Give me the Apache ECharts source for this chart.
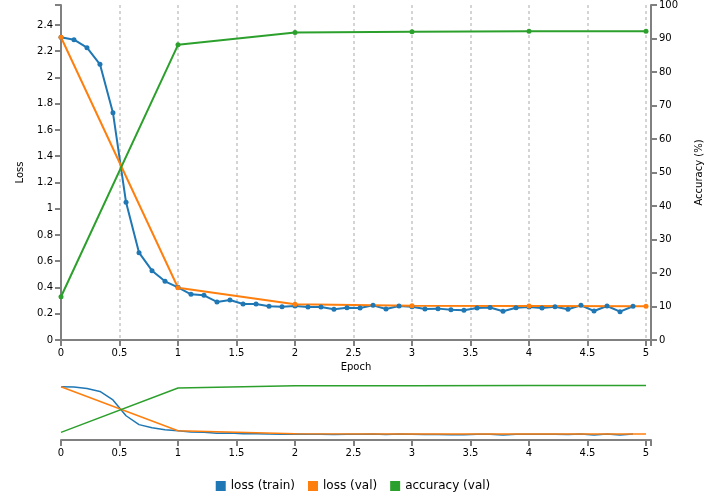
<!DOCTYPE html>
<html><head><meta charset="utf-8">
<script src="https://cdn.jsdelivr.net/npm/echarts@6/dist/echarts.min.js"></script>
<style>html,body{margin:0;padding:0;background:#fff}#c{width:706px;height:497px}</style>
</head><body><div id="c"></div>
<script>
// ---- data ----
const trainEpochs = [0, 0.111, 0.222, 0.333, 0.444, 0.556, 0.667, 0.778, 0.889, 1,
  1.111, 1.222, 1.333, 1.444, 1.556, 1.667, 1.778, 1.889, 2,
  2.111, 2.222, 2.333, 2.444, 2.556, 2.667, 2.778, 2.889, 3,
  3.111, 3.222, 3.333, 3.444, 3.556, 3.667, 3.778, 3.889, 4,
  4.111, 4.222, 4.333, 4.444, 4.556, 4.667, 4.778, 4.889];
const trainLoss = [2.306, 2.288, 2.227, 2.100, 1.732, 1.049, 0.665, 0.528, 0.447, 0.401,
  0.348, 0.340, 0.290, 0.305, 0.274, 0.274, 0.257, 0.254, 0.259,
  0.251, 0.251, 0.234, 0.246, 0.244, 0.264, 0.236, 0.259, 0.254,
  0.236, 0.239, 0.231, 0.226, 0.244, 0.248, 0.219, 0.246, 0.251,
  0.244, 0.254, 0.234, 0.264, 0.221, 0.259, 0.216, 0.257];
const valEpochs = [0, 1, 2, 3, 4, 5];
const valLoss = [2.306, 0.398, 0.272, 0.261, 0.259, 0.257];
const valAcc = [12.9, 88.1, 91.8, 92.0, 92.2, 92.2];
const seriesNames = ['loss (train)', 'loss (val)', 'accuracy (val)'];
const colors = ['#1f77b4', '#ff7f0e', '#2ca02c'];

const FONT = 'DejaVu Sans';
const AX = '#808080';
const xMax = 5 + 5 / 117;
const lossMax = 2.552;

function zip(xs, ys) { return xs.map((x, i) => [x, ys[i]]); }
function stepFmt(step, digits) {
  return function (v) {
    const k = v / step;
    if (Math.abs(k - Math.round(k)) > 1e-6) return '';
    return String(+(Math.round(k) * step).toFixed(digits));
  };
}
const axisCommon = {
  axisLine: { show: true, onZero: false, lineStyle: { color: AX, width: 2 } },
  axisTick: { show: true, inside: false, length: 6, lineStyle: { color: AX, width: 2 } },
  axisLabel: { color: '#000', fontSize: 10, fontFamily: FONT, margin: 8 },
  nameTextStyle: { color: '#000', fontSize: 10, fontFamily: FONT }
};
function xAxisDef(grid, main) {
  return Object.assign({}, axisCommon, {
    type: 'value', gridIndex: grid, min: 0, max: xMax, interval: 0.5,
    axisLabel: Object.assign({}, axisCommon.axisLabel, { formatter: stepFmt(0.5, 1) }),
    splitLine: { show: main, lineStyle: { color: '#d4d4d4', width: 2, type: [3, 3] } },
    name: main ? 'Epoch' : '', nameLocation: 'middle', nameGap: 22
  });
}

const chart = echarts.init(document.getElementById('c'), null, { renderer: 'canvas' });
const mainLine = (idx, xs, ys, yi) => ({
  name: seriesNames[idx], type: 'line', xAxisIndex: 0, yAxisIndex: yi,
  data: zip(xs, ys), color: colors[idx], symbol: 'circle', symbolSize: 5,
  lineStyle: { width: 2, color: colors[idx] }, itemStyle: { color: colors[idx] }
});
const subLine = (idx, xs, ys, yi) => ({
  name: seriesNames[idx], type: 'line', xAxisIndex: 1, yAxisIndex: yi,
  data: zip(xs, ys), color: colors[idx], symbol: 'none', showSymbol: false,
  lineStyle: { width: 1.5, color: colors[idx] }
});

chart.setOption({
  animation: false,
  textStyle: { fontFamily: FONT },
  grid: [
    { left: 61, top: 5, width: 590, height: 335, outerBoundsMode: 'none', containLabel: false },
    { left: 61, top: 381, width: 590, height: 59, outerBoundsMode: 'none', containLabel: false }
  ],
  legend: {
    data: seriesNames, top: 480, left: 'center', padding: 0,
    icon: 'rect', itemWidth: 10, itemHeight: 10, itemGap: 13,
    textStyle: { fontSize: 12, color: '#000', fontFamily: FONT }
  },
  xAxis: [xAxisDef(0, true), xAxisDef(1, false)],
  yAxis: [
    Object.assign({}, axisCommon, {
      type: 'value', gridIndex: 0, position: 'left', min: 0, max: lossMax, interval: 0.2,
      axisLabel: Object.assign({}, axisCommon.axisLabel, { formatter: stepFmt(0.2, 1) }),
      splitLine: { show: false },
      name: 'Loss', nameLocation: 'middle', nameGap: 36, nameRotate: 90
    }),
    Object.assign({}, axisCommon, {
      type: 'value', gridIndex: 0, position: 'right', min: 0, max: 100, interval: 10,
      splitLine: { show: false },
      name: 'Accuracy (%)', nameLocation: 'middle', nameGap: 43, nameRotate: 90
    }),
    { type: 'value', gridIndex: 1, min: 0, max: lossMax, show: false },
    { type: 'value', gridIndex: 1, min: 0, max: 100, show: false }
  ],
  series: [
    mainLine(0, trainEpochs, trainLoss, 0),
    mainLine(1, valEpochs, valLoss, 0),
    mainLine(2, valEpochs, valAcc, 1),
    subLine(0, trainEpochs, trainLoss, 2),
    subLine(1, valEpochs, valLoss, 2),
    subLine(2, valEpochs, valAcc, 3)
  ]
});
</script></body></html>
